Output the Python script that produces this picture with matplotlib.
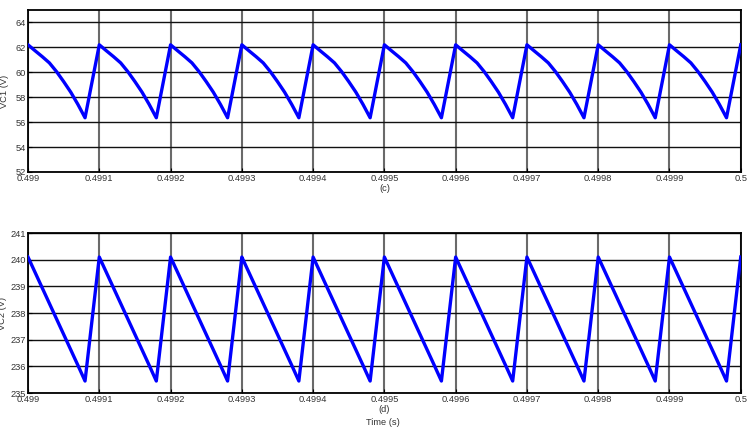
import numpy as np
import matplotlib.pyplot as plt

plt.rcParams['font.family'] = ['Liberation Sans', 'DejaVu Sans']

# one switching period, as fraction of the period (0.0001 s)
phase = [0.0, 0.1, 0.2, 0.3, 0.4, 0.5, 0.6, 0.7, 0.8, 1.0]
vc1_period = [62.2, 61.72, 61.25, 60.75, 60.05, 59.25, 58.4, 57.42, 56.35, 62.2]
vc2_period = [240.1, 239.52, 238.94, 238.36, 237.78, 237.2, 236.62, 236.04, 235.45, 240.1]

period_starts = [0.499, 0.4991, 0.4992, 0.4993, 0.4994, 0.4995, 0.4996, 0.4997, 0.4998, 0.4999]
period = 0.0001

xticks = [0.499, 0.4991, 0.4992, 0.4993, 0.4994, 0.4995, 0.4996, 0.4997, 0.4998, 0.4999, 0.5]
xtick_labels = ['0.499', '0.4991', '0.4992', '0.4993', '0.4994', '0.4995',
                '0.4996', '0.4997', '0.4998', '0.4999', '0.5']


def build(values):
    t, v = [], []
    for s in period_starts:
        for p, y in zip(phase, values):
            t.append(s + p * period)
            v.append(y)
    return t, v


t1, v1 = build(vc1_period)
t2, v2 = build(vc2_period)

fig = plt.figure(figsize=(7.49, 4.30), dpi=100)
ax1 = fig.add_axes([0.0374, 0.600, 0.9516, 0.377])
ax2 = fig.add_axes([0.0374, 0.086, 0.9516, 0.372])

for ax, t, v, ylim, yticks, ylabel, tag in [
        (ax1, t1, v1, (52, 65), range(52, 65, 2), 'VC1 (V)', '(c)'),
        (ax2, t2, v2, (235, 241), range(235, 242), 'VC2 (V)', '(d)')]:
    ax.plot(t, v, color='#0000ff', lw=2.4, solid_joinstyle='round', zorder=3)
    ax.set_xlim(0.499, 0.5)
    ax.set_ylim(*ylim)
    ax.set_yticks(list(yticks))
    ax.set_xticks(xticks)
    ax.set_xticklabels(xtick_labels)
    ax.xaxis.grid(True, color='#6a6a6a', lw=1.5)
    ax.yaxis.grid(True, color='#111111', lw=1.0)
    ax.tick_params(labelsize=6.7, labelcolor='#333333', direction='in', length=3, pad=1.5)
    ax.set_ylabel(ylabel, fontsize=6.7, color='#333333', labelpad=2)
    ax.set_xlabel(tag, fontsize=6.7, color='#333333', labelpad=1)
    for sp in ax.spines.values():
        sp.set_linewidth(1.3)

ax1.yaxis.set_label_coords(-0.026, 0.5)
ax2.yaxis.set_label_coords(-0.029, 0.5)
fig.text(0.511, 0.012, 'Time (s)', ha='center', fontsize=6.7, color='#333333')

fig.savefig('out.png', dpi=100)
